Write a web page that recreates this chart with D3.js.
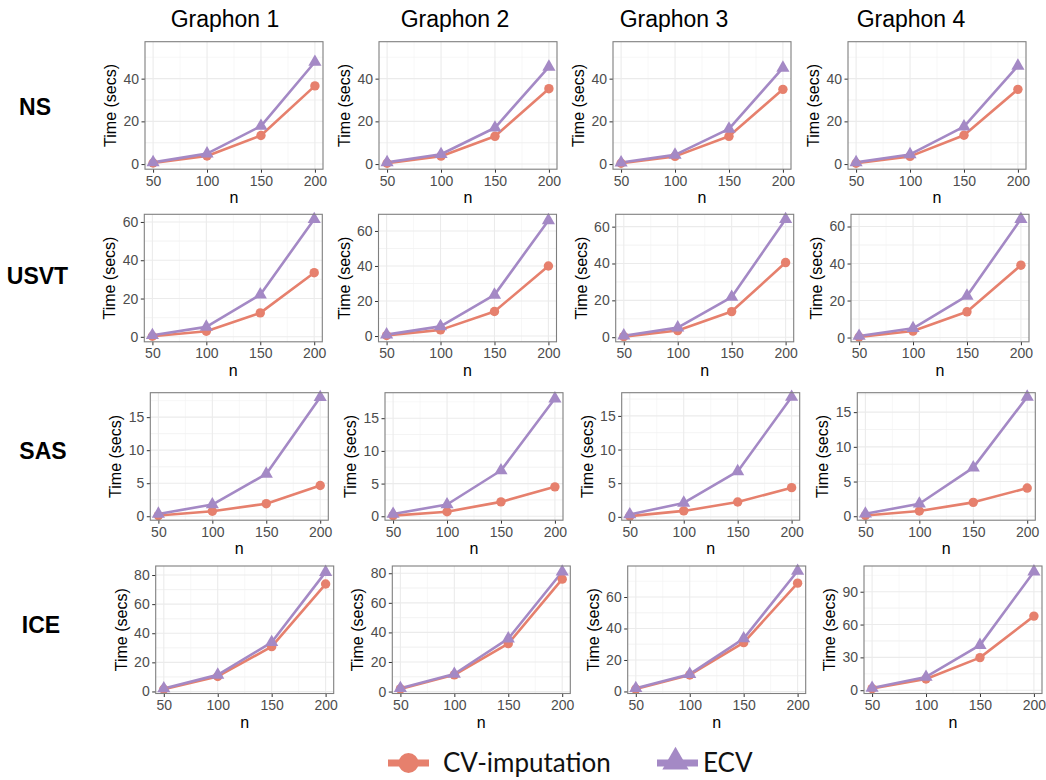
<!DOCTYPE html>
<html>
<head>
<meta charset="utf-8">
<script src="https://cdn.jsdelivr.net/npm/d3@7"></script>
<style>
  body { margin: 0; background: #fff; }
  svg { display: block; }
</style>
</head>
<body>
<div id="vis"></div>
<script>
// ---- data ----
var methods = ["NS", "USVT", "SAS", "ICE"];
var graphons = ["Graphon 1", "Graphon 2", "Graphon 3", "Graphon 4"];
var nValues = [50, 100, 150, 200];
var seriesNames = ["CV-imputation", "ECV"];

// time (secs), [method][graphon][n]
var cvTimes = [
  [[0.5, 3.8, 13.4, 36.6], [0.4, 3.7, 13.0, 35.3], [0.4, 3.6, 13.0, 35.0], [0.4, 3.6, 13.5, 35.0]],
  [[0.3, 2.9, 12.5, 33.5], [0.3, 3.5, 14.0, 40.0], [0.3, 3.6, 13.9, 40.5], [0.3, 3.5, 13.9, 39.1]],
  [[0.1, 0.76, 1.9, 4.65], [0.1, 0.7, 2.2, 4.5], [0.1, 0.88, 2.2, 4.34], [0.1, 0.75, 2.0, 4.06]],
  [[1.5, 10.3, 30.8, 73.8], [1.8, 11.3, 32.4, 76.0], [1.5, 10.5, 31.0, 68.8], [1.5, 10.3, 29.8, 67.7]]
];
var ecvTimes = [
  [[0.8, 4.9, 17.8, 47.8], [0.8, 4.6, 17.0, 45.5], [0.7, 4.3, 16.5, 45.0], [0.8, 4.5, 17.5, 46.0]],
  [[0.8, 5.2, 22.0, 61.4], [0.8, 5.5, 23.5, 66.0], [0.8, 5.2, 21.8, 64.0], [0.8, 5.0, 22.5, 64.0]],
  [[0.35, 1.77, 6.4, 18.0], [0.35, 1.8, 7.0, 18.0], [0.35, 2.07, 6.75, 17.8], [0.35, 1.8, 7.0, 17.2]],
  [[2.0, 11.4, 33.8, 82.0], [2.2, 11.9, 35.8, 81.0], [2.0, 11.0, 33.6, 76.5], [2.0, 12.1, 41.2, 108.3]]
];

// y axis ticks and limits per panel
var yTicks = [
  [[0, 20, 40], [0, 20, 40], [0, 20, 40], [0, 20, 40]],
  [[0, 20, 40, 60], [0, 20, 40, 60], [0, 20, 40, 60], [0, 20, 40, 60]],
  [[0, 5, 10, 15], [0, 5, 10, 15], [0, 5, 10, 15], [0, 5, 10, 15]],
  [[0, 20, 40, 60, 80], [0, 20, 40, 60, 80], [0, 20, 40, 60], [0, 30, 60, 90]]
];
var yLimits = [
  [[-2.4, 57.3], [-2.4, 57.3], [-2.4, 57.3], [-2.4, 57.3]],
  [[-2.6, 64], [-3.3, 69.5], [-2.5, 66.7], [-2.3, 66.6]],
  [[-0.6, 18.7], [-0.6, 18.9], [-0.5, 18.45], [-0.57, 17.8]],
  [[-1.4, 86.2], [-1.3, 84.9], [-1.3, 79.7], [-3, 113.5]]
];
var xTicks = [50, 100, 150, 200];
var xMinor = [75, 125, 175];

// ---- layout ----
var W = 1046, H = 780;
var panelLeft = [
  [145, 379, 613, 848],
  [144.3, 378.5, 615.7, 851],
  [150.3, 385, 621.7, 857.3],
  [155.7, 392.3, 627.7, 864]
];
var panelTop = [41.7, 214.3, 392.7, 566];
var panelW = 178, panelH = 127.5;
var titleX = [225, 455, 674, 911];
var rowLabelX = [35, 37.5, 43, 41];
var rowLabelY = [107, 276, 450.5, 625];
var font = "Liberation Sans, Arial, sans-serif";

var colors = { "CV-imputation": "#E6806D", "ECV": "#A489C5" };

var svg = d3.select("#vis").append("svg")
  .attr("width", W)
  .attr("height", H);

// column titles
svg.selectAll("text.coltitle")
  .data(graphons)
  .enter()
  .append("text")
  .attr("class", "coltitle")
  .attr("x", function(d, i) { return titleX[i]; })
  .attr("y", 27)
  .attr("text-anchor", "middle")
  .style("font-family", font)
  .style("font-size", "23px")
  .text(function(d) { return d; });

// row labels
svg.selectAll("text.rowlabel")
  .data(methods)
  .enter()
  .append("text")
  .attr("class", "rowlabel")
  .attr("x", function(d, i) { return rowLabelX[i]; })
  .attr("y", function(d, i) { return rowLabelY[i]; })
  .attr("text-anchor", "middle")
  .attr("dy", "0.36em")
  .style("font-family", font)
  .style("font-weight", "bold")
  .style("font-size", "23px")
  .text(function(d) { return d; });

function minorTicks(ticks) {
  var out = [];
  var step = ticks[1] - ticks[0];
  for (var i = 0; i < ticks.length; i++) {
    out.push(ticks[i] - step / 2);
    out.push(ticks[i] + step / 2);
  }
  return out;
}

methods.forEach(function(m, r) {
  graphons.forEach(function(g, c) {
    var x0 = panelLeft[r][c], y0 = panelTop[r];
    var p = svg.append("g").attr("transform", "translate(" + x0 + "," + y0 + ")");

    var x = d3.scaleLinear().domain([42.5, 207.5]).range([0, panelW]);
    var y = d3.scaleLinear().domain(yLimits[r][c]).range([panelH, 0]);

    var yMinor = minorTicks(yTicks[r][c]).filter(function(v) {
      return v > yLimits[r][c][0] && v < yLimits[r][c][1];
    });

    // grid
    p.selectAll("line.ymin").data(yMinor).enter().append("line")
      .attr("x1", 0).attr("x2", panelW)
      .attr("y1", function(d) { return y(d); }).attr("y2", function(d) { return y(d); })
      .attr("stroke", "#F2F2F2").attr("stroke-width", 0.6);
    p.selectAll("line.xmin").data(xMinor).enter().append("line")
      .attr("y1", 0).attr("y2", panelH)
      .attr("x1", function(d) { return x(d); }).attr("x2", function(d) { return x(d); })
      .attr("stroke", "#F2F2F2").attr("stroke-width", 0.6);
    p.selectAll("line.ymaj").data(yTicks[r][c]).enter().append("line")
      .attr("x1", 0).attr("x2", panelW)
      .attr("y1", function(d) { return y(d); }).attr("y2", function(d) { return y(d); })
      .attr("stroke", "#EBEBEB").attr("stroke-width", 1.1);
    p.selectAll("line.xmaj").data(xTicks).enter().append("line")
      .attr("y1", 0).attr("y2", panelH)
      .attr("x1", function(d) { return x(d); }).attr("x2", function(d) { return x(d); })
      .attr("stroke", "#EBEBEB").attr("stroke-width", 1.1);

    // axes
    var xAxis = d3.axisBottom(x).tickValues(xTicks).tickSize(3.5).tickPadding(3);
    var yAxis = d3.axisLeft(y).tickValues(yTicks[r][c]).tickSize(3.5).tickPadding(2.5);
    [p.append("g").attr("transform", "translate(0," + panelH + ")").call(xAxis),
     p.append("g").call(yAxis)].forEach(function(a) {
      a.select(".domain").remove();
      a.selectAll("line").attr("stroke", "#333333");
      a.selectAll("text")
        .attr("fill", "#4D4D4D")
        .style("font-family", font)
        .style("font-size", "14px");
    });

    // lines
    var line = d3.line()
      .x(function(d, i) { return x(nValues[i]); })
      .y(function(d) { return y(d); });
    var series = [
      { name: "CV-imputation", values: cvTimes[r][c] },
      { name: "ECV", values: ecvTimes[r][c] }
    ];
    series.forEach(function(s) {
      p.append("path")
        .datum(s.values)
        .attr("d", line)
        .attr("fill", "none")
        .attr("stroke", colors[s.name])
        .attr("stroke-width", 2.6)
        .attr("stroke-linejoin", "round");
    });
    p.selectAll("circle")
      .data(series[0].values)
      .enter()
      .append("circle")
      .attr("cx", function(d, i) { return x(nValues[i]); })
      .attr("cy", function(d) { return y(d); })
      .attr("r", 4.7)
      .attr("fill", colors["CV-imputation"]);
    p.selectAll("path.tri")
      .data(series[1].values)
      .enter()
      .append("path")
      .attr("class", "tri")
      .attr("d", d3.symbol().type(d3.symbolTriangle).size(75))
      .attr("transform", function(d, i) {
        return "translate(" + x(nValues[i]) + "," + y(d) + ")";
      })
      .attr("fill", colors["ECV"]);

    // border
    p.append("rect")
      .attr("width", panelW).attr("height", panelH)
      .attr("fill", "none")
      .attr("stroke", "#7F7F7F")
      .attr("stroke-width", 1.1);

    // axis titles
    p.append("text")
      .attr("x", panelW / 2)
      .attr("y", panelH + 34)
      .attr("text-anchor", "middle")
      .style("font-family", font)
      .style("font-size", "16px")
      .text("n");
    p.append("text")
      .attr("transform", "translate(-29," + (panelH / 2) + ") rotate(-90)")
      .attr("text-anchor", "middle")
      .style("font-family", font)
      .style("font-size", "16px")
      .text("Time (secs)");
  });
});

// legend
var legendX = [388, 657];
var legend = svg.selectAll("g.legend")
  .data(seriesNames)
  .enter()
  .append("g")
  .attr("class", "legend")
  .attr("transform", function(d, i) { return "translate(" + legendX[i] + ",763)"; });
legend.append("line")
  .attr("x1", 0).attr("x2", 41)
  .attr("stroke", function(d) { return colors[d]; })
  .attr("stroke-width", 7);
legend.filter(function(d) { return d === "CV-imputation"; })
  .append("circle")
  .attr("cx", 20.5).attr("r", 10)
  .attr("fill", function(d) { return colors[d]; });
legend.filter(function(d) { return d === "ECV"; })
  .append("path")
  .attr("d", d3.symbol().type(d3.symbolTriangle).size(300))
  .attr("transform", "translate(18.5,-1)")
  .attr("fill", function(d) { return colors[d]; });
legend.append("text")
  .attr("x", function(d, i) { return i === 0 ? 55 : 46; })
  .attr("dy", "0.36em")
  .style("font-family", "Lato, Open Sans, sans-serif")
  .style("font-size", "26px")
  .attr("fill", "#111")
  .text(function(d) { return d; });
</script>
</body>
</html>
